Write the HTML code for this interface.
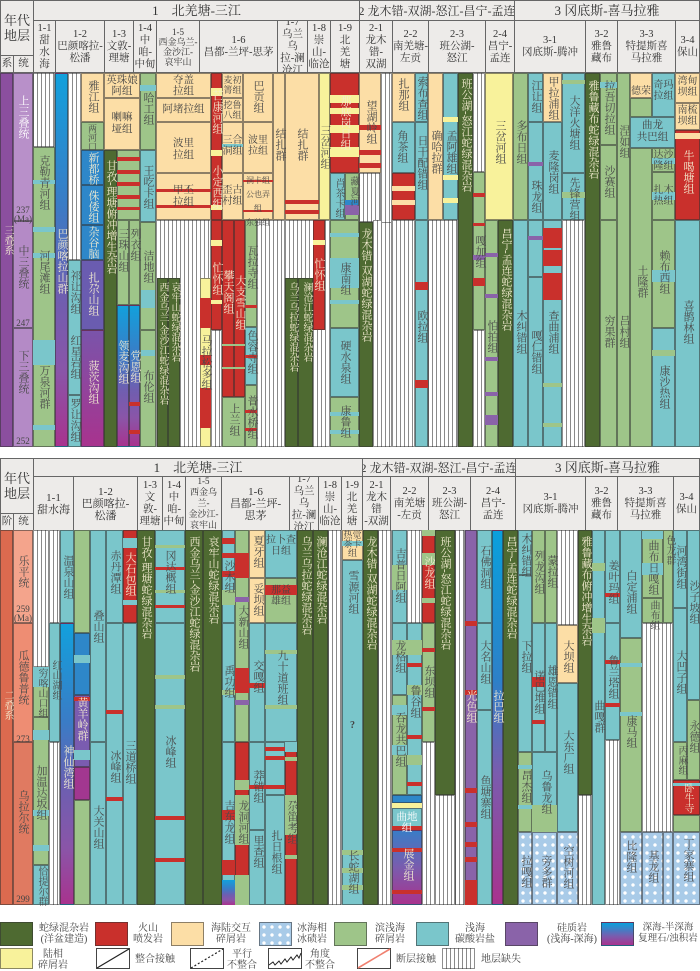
<!DOCTYPE html>
<html><head><meta charset="utf-8">
<style>
body{margin:0;background:#fff;width:700px;height:970px;position:relative;overflow:hidden;font-family:"Liberation Serif","Noto Serif CJK SC",serif}
i{position:absolute;display:block;box-sizing:border-box;border:0.5px solid rgba(50,50,50,.55)}
.G{background:#4e6a31}.R{background:#c9302c}.S{background:#fcdea6}.L{background:#9ec589}.C{background:#7ac6cb}
.P{background:#8a63a9}.Y{background:#f8f29b}.U{background:#2e87c9}.M{background:#a23790}
.H{background:repeating-linear-gradient(90deg,#fff 0 3px,#8a8a8a 3px 4px)}
.B{background:linear-gradient(#12a0dc,#3a7cc6 35%,#6f5eb0 60%,#8a55a8 80%,#a8338e)}
.I{background:#a9cbe8 radial-gradient(circle,#fff 1.4px,transparent 2px) 0 0/8px 8px}
.n{border:none}
s{position:absolute;text-decoration:none;writing-mode:vertical-rl;font-size:11px;line-height:12px;color:#4a4a4a;white-space:nowrap}
s.w{color:#f3ecd0}
.h{position:absolute;box-sizing:border-box;border:1px solid #666;background:#edebe9;display:flex;flex-direction:column;align-items:center;justify-content:center;font-size:10.5px;line-height:12px;color:#333;text-align:center;overflow:hidden}
.h1{font-size:12px;white-space:nowrap}
.lg{position:absolute;font-size:10px;line-height:11px;color:#444;text-align:center}
</style></head><body>

<!-- ========== TOP HEADER ========== -->
<div class="h" style="left:0;top:0;width:34px;height:56px;font-size:13px;line-height:15px">年代<br>地层</div>
<div class="h" style="left:0;top:55px;width:14px;height:18px">系</div>
<div class="h" style="left:13px;top:55px;width:21px;height:18px">统</div>
<div class="h h1" style="left:33px;top:0;width:327px;height:21px;font-size:13px">1　北羌塘-三江</div>
<div class="h h1" style="left:359px;top:0;width:156px;height:21px">2 龙木错-双湖-怒江-昌宁-孟连</div>
<div class="h h1" style="left:514px;top:0;width:186px;height:21px;font-size:13px">3 冈底斯-喜马拉雅</div>
<div class="h" style="left:33px;top:20px;width:23px;height:53px">1-1<br>甜<br>水<br>海</div>
<div class="h" style="left:55px;top:20px;width:50px;height:53px">1-2<br>巴颜喀拉-<br>松潘</div>
<div class="h" style="left:104px;top:20px;width:30px;height:53px">1-3<br>文敦-<br>理塘</div>
<div class="h" style="left:133px;top:20px;width:24px;height:53px">1-4<br>中咱-<br>中甸</div>
<div class="h" style="left:156px;top:20px;width:44px;height:53px;font-size:9px;line-height:10px">1-5<br>西金乌兰-<br>金沙江-<br>哀牢山</div>
<div class="h" style="left:199px;top:20px;width:79px;height:53px">1-6<br>昌都-兰坪-思茅</div>
<div class="h" style="left:277px;top:20px;width:31px;height:53px">1-7<br>乌兰乌<br>拉-澜<br>沧江</div>
<div class="h" style="left:307px;top:20px;width:24px;height:53px">1-8<br>崇山-<br>临沧</div>
<div class="h" style="left:330px;top:20px;width:30px;height:53px">1-9<br>北<br>羌<br>塘</div>
<div class="h" style="left:359px;top:20px;width:34px;height:53px">2-1<br>龙木错-<br>双湖</div>
<div class="h" style="left:392px;top:20px;width:37px;height:53px">2-2<br>南羌塘-<br>左贡</div>
<div class="h" style="left:428px;top:20px;width:58px;height:53px">2-3<br>班公湖-<br>怒江</div>
<div class="h" style="left:485px;top:20px;width:30px;height:53px">2-4<br>昌宁-<br>孟连</div>
<div class="h" style="left:514px;top:20px;width:72px;height:53px">3-1<br>冈底斯-腾冲</div>
<div class="h" style="left:585px;top:20px;width:33px;height:53px">3-2<br>雅鲁<br>藏布</div>
<div class="h" style="left:617px;top:20px;width:59px;height:53px">3-3<br>特提斯喜<br>马拉雅</div>
<div class="h" style="left:675px;top:20px;width:25px;height:53px">3-4<br>保山</div>

<!-- ========== TOP BODY ========== -->
<i style="left:0;top:73px;width:13px;height:374px;background:#8b4f9f"></i>
<i style="left:13px;top:73px;width:20px;height:148px;background:#b890c9"></i>
<i style="left:13px;top:221px;width:20px;height:107px;background:#b48ac6"></i>
<i style="left:13px;top:328px;width:20px;height:119px;background:#b48ac6"></i>
<!-- 1-1 -->
<i class="H" style="left:33px;top:73px;width:22px;height:74px"></i>
<i class="L" style="left:33px;top:147px;width:22px;height:300px"></i>
<i class="C n" style="left:33px;top:180px;width:22px;height:4px"></i>
<i class="C n" style="left:33px;top:227px;width:22px;height:5px"></i>
<i class="C n" style="left:33px;top:253px;width:22px;height:5px"></i>
<i class="C n" style="left:33px;top:340px;width:22px;height:25px"></i>
<i class="C n" style="left:33px;top:425px;width:22px;height:5px"></i>
<!-- 1-2 -->
<i class="B" style="left:55px;top:73px;width:13px;height:374px"></i>
<i class="H" style="left:68px;top:73px;width:13px;height:187px"></i>
<i class="C" style="left:68px;top:260px;width:13px;height:135px"></i>
<i class="C" style="left:68px;top:395px;width:13px;height:52px"></i>
<i class="S" style="left:81px;top:73px;width:23px;height:49px"></i>
<i class="L" style="left:81px;top:122px;width:23px;height:28px"></i>
<i class="U" style="left:81px;top:150px;width:23px;height:35px"></i>
<i class="U" style="left:81px;top:185px;width:23px;height:40px"></i>
<i class="U" style="left:81px;top:225px;width:23px;height:35px"></i>
<i style="left:81px;top:260px;width:23px;height:70px;background:#6a5cb0"></i>
<i style="left:81px;top:330px;width:23px;height:117px;background:linear-gradient(#7a54aa,#a8338e)"></i>
<!-- 1-3 -->
<i class="S" style="left:104px;top:73px;width:36px;height:25px"></i>
<i class="S" style="left:104px;top:98px;width:36px;height:52px"></i>
<i class="G" style="left:104px;top:150px;width:13px;height:297px"></i>
<i class="L" style="left:117px;top:150px;width:23px;height:70px"></i>
<i class="R n" style="left:117px;top:157px;width:23px;height:4px"></i>
<i class="R n" style="left:117px;top:170px;width:23px;height:4px"></i>
<i class="R n" style="left:117px;top:182px;width:23px;height:4px"></i>
<i class="R n" style="left:117px;top:195px;width:23px;height:4px"></i>
<i class="R n" style="left:117px;top:207px;width:23px;height:3px"></i>
<i class="L" style="left:117px;top:220px;width:12px;height:85px"></i>
<i class="L" style="left:129px;top:220px;width:11px;height:85px"></i>
<i class="B" style="left:117px;top:305px;width:12px;height:142px"></i>
<i class="B" style="left:129px;top:305px;width:11px;height:142px"></i>
<i class="R n" style="left:129px;top:402px;width:11px;height:4px"></i>
<i class="R n" style="left:129px;top:430px;width:11px;height:4px"></i>
<!-- 1-4 -->
<i class="L" style="left:140px;top:73px;width:16px;height:77px"></i>
<i class="C n" style="left:140px;top:85px;width:16px;height:6px"></i>
<i class="C" style="left:140px;top:150px;width:16px;height:72px"></i>
<i class="L" style="left:140px;top:222px;width:16px;height:108px"></i>
<i class="C n" style="left:141px;top:290px;width:14px;height:18px"></i>
<i class="L" style="left:140px;top:330px;width:16px;height:117px"></i>
<i class="C n" style="left:141px;top:350px;width:14px;height:6px"></i>
<!-- 1-5 -->
<i class="S" style="left:156px;top:73px;width:55px;height:25px"></i>
<i class="S" style="left:156px;top:98px;width:55px;height:24px"></i>
<i class="S" style="left:156px;top:122px;width:55px;height:51px"></i>
<i class="S" style="left:156px;top:173px;width:55px;height:47px"></i>
<i class="R n" style="left:156px;top:189px;width:55px;height:3px"></i>
<i class="R n" style="left:156px;top:205px;width:55px;height:3px"></i>
<i class="H" style="left:156px;top:220px;width:55px;height:227px"></i>
<i class="G" style="left:157px;top:278px;width:11px;height:169px"></i>
<i class="G" style="left:168px;top:278px;width:12px;height:169px"></i>
<i class="Y" style="left:200px;top:278px;width:11px;height:169px"></i>
<i class="R n" style="left:200px;top:298px;width:11px;height:30px"></i>
<i class="R n" style="left:200px;top:355px;width:11px;height:10px"></i>
<i class="R n" style="left:200px;top:388px;width:11px;height:40px"></i>
<!-- 1-6 -->
<i class="R" style="left:211px;top:73px;width:11px;height:147px"></i>
<i class="Y n" style="left:211px;top:88px;width:11px;height:8px"></i>
<i class="Y n" style="left:211px;top:150px;width:11px;height:6px"></i>
<i class="Y n" style="left:211px;top:205px;width:11px;height:5px"></i>
<i class="R" style="left:211px;top:220px;width:11px;height:110px"></i>
<i class="Y n" style="left:211px;top:240px;width:11px;height:6px"></i>
<i class="Y n" style="left:211px;top:300px;width:11px;height:4px"></i>
<i class="H" style="left:211px;top:330px;width:11px;height:117px"></i>
<i class="S" style="left:222px;top:73px;width:21px;height:25px"></i>
<i class="S" style="left:222px;top:98px;width:21px;height:24px"></i>
<i class="S" style="left:222px;top:122px;width:21px;height:51px"></i>
<i class="C n" style="left:222px;top:144px;width:21px;height:3px"></i>
<i class="S" style="left:222px;top:173px;width:21px;height:47px"></i>
<i class="S" style="left:243px;top:73px;width:30px;height:49px"></i>
<i class="S" style="left:243px;top:122px;width:30px;height:51px"></i>
<i class="S" style="left:243px;top:173px;width:30px;height:47px"></i>
<i class="R n" style="left:243px;top:180px;width:30px;height:2px"></i>
<i class="R n" style="left:243px;top:210px;width:30px;height:2px"></i>
<i class="R" style="left:222px;top:220px;width:12px;height:177px"></i>
<i class="R" style="left:234px;top:220px;width:11px;height:177px"></i>
<i class="L n" style="left:222px;top:344px;width:23px;height:2px"></i>
<i class="L n" style="left:222px;top:367px;width:23px;height:2px"></i>
<i class="L" style="left:222px;top:397px;width:23px;height:50px"></i>
<i class="L" style="left:245px;top:220px;width:12px;height:107px"></i>
<i class="R n" style="left:245px;top:305px;width:12px;height:3px"></i>
<i class="C" style="left:245px;top:327px;width:12px;height:58px"></i>
<i class="R n" style="left:245px;top:355px;width:12px;height:3px"></i>
<i class="L" style="left:245px;top:385px;width:12px;height:62px"></i>
<i class="R n" style="left:245px;top:410px;width:12px;height:3px"></i>
<i class="R n" style="left:245px;top:428px;width:12px;height:3px"></i>
<i class="H" style="left:257px;top:220px;width:28px;height:227px"></i>
<!-- 1-7 / 1-8 -->
<i class="S" style="left:273px;top:73px;width:12px;height:147px"></i>
<i class="S" style="left:285px;top:73px;width:34px;height:147px"></i>
<i class="R n" style="left:285px;top:200px;width:34px;height:4px"></i>
<i class="R n" style="left:285px;top:210px;width:34px;height:4px"></i>
<i class="H" style="left:285px;top:220px;width:45px;height:227px"></i>
<i class="G" style="left:285px;top:278px;width:13px;height:169px"></i>
<i class="G" style="left:298px;top:278px;width:15px;height:169px"></i>
<i class="R" style="left:313px;top:220px;width:12px;height:110px"></i>
<i class="Y n" style="left:313px;top:240px;width:12px;height:5px"></i>
<i class="Y" style="left:319px;top:73px;width:11px;height:147px"></i>
<!-- 1-9 -->
<i class="R" style="left:330px;top:73px;width:29px;height:100px"></i>
<i class="Y n" style="left:330px;top:95px;width:29px;height:8px"></i>
<i class="Y n" style="left:330px;top:108px;width:29px;height:6px"></i>
<i class="Y n" style="left:330px;top:125px;width:29px;height:8px"></i>
<i class="Y n" style="left:330px;top:147px;width:29px;height:10px"></i>
<i class="C" style="left:330px;top:173px;width:15px;height:47px"></i>
<i class="L" style="left:345px;top:173px;width:14px;height:47px"></i>
<i class="U n" style="left:345px;top:200px;width:14px;height:5px"></i>
<i class="P n" style="left:345px;top:205px;width:14px;height:10px"></i>
<i class="L" style="left:330px;top:220px;width:29px;height:108px"></i>
<i class="C n" style="left:330px;top:233px;width:29px;height:4px"></i>
<i class="C n" style="left:330px;top:258px;width:29px;height:30px"></i>
<i class="C n" style="left:330px;top:300px;width:29px;height:4px"></i>
<i class="C" style="left:330px;top:328px;width:29px;height:69px"></i>
<i class="L" style="left:330px;top:397px;width:29px;height:50px"></i>
<i class="C n" style="left:330px;top:412px;width:29px;height:4px"></i>
<i class="C n" style="left:330px;top:430px;width:29px;height:4px"></i>
<!-- 2-1 -->
<i class="S" style="left:359px;top:73px;width:22px;height:100px"></i>
<i class="R n" style="left:359px;top:125px;width:22px;height:5px"></i>
<i class="R n" style="left:359px;top:150px;width:22px;height:5px"></i>
<i class="R n" style="left:359px;top:163px;width:22px;height:5px"></i>
<i class="H" style="left:359px;top:173px;width:22px;height:49px"></i>
<i class="G" style="left:359px;top:222px;width:14px;height:225px"></i>
<i class="H" style="left:373px;top:220px;width:19px;height:227px"></i>
<i class="H" style="left:381px;top:73px;width:11px;height:150px"></i>
<!-- 2-2 -->
<i class="S" style="left:392px;top:73px;width:23px;height:49px"></i>
<i class="C" style="left:392px;top:122px;width:23px;height:51px"></i>
<i class="R" style="left:392px;top:173px;width:23px;height:47px"></i>
<i class="S n" style="left:392px;top:186px;width:23px;height:5px"></i>
<i class="S n" style="left:392px;top:200px;width:23px;height:5px"></i>
<i class="C" style="left:415px;top:73px;width:13px;height:49px"></i>
<i class="C" style="left:415px;top:122px;width:13px;height:98px"></i>
<i class="H" style="left:392px;top:220px;width:23px;height:227px"></i>
<i class="C" style="left:415px;top:220px;width:13px;height:227px"></i>
<i class="R n" style="left:415px;top:282px;width:13px;height:8px"></i>
<i class="R n" style="left:415px;top:380px;width:13px;height:8px"></i>
<!-- 2-3 -->
<i class="S" style="left:428px;top:73px;width:15px;height:147px"></i>
<i class="C" style="left:443px;top:73px;width:15px;height:147px"></i>
<i class="Y n" style="left:443px;top:117px;width:15px;height:5px"></i>
<i class="Y n" style="left:443px;top:175px;width:15px;height:5px"></i>
<i class="Y n" style="left:443px;top:198px;width:15px;height:5px"></i>
<i class="H" style="left:428px;top:220px;width:30px;height:227px"></i>
<i class="G" style="left:458px;top:73px;width:15px;height:374px"></i>
<i class="H" style="left:473px;top:73px;width:12px;height:99px"></i>
<i class="L" style="left:473px;top:172px;width:12px;height:158px"></i>
<i class="R n" style="left:473px;top:193px;width:12px;height:4px"></i>
<i class="R n" style="left:473px;top:223px;width:12px;height:3px"></i>
<i class="P n" style="left:473px;top:255px;width:12px;height:5px"></i>
<i class="R n" style="left:473px;top:278px;width:12px;height:8px"></i>
<i class="H" style="left:473px;top:330px;width:12px;height:117px"></i>
<!-- 2-4 -->
<i class="Y" style="left:485px;top:73px;width:28px;height:147px"></i>
<i class="L" style="left:485px;top:220px;width:13px;height:227px"></i>
<i class="P n" style="left:485px;top:253px;width:13px;height:4px"></i>
<i class="P n" style="left:485px;top:294px;width:13px;height:4px"></i>
<i class="P n" style="left:485px;top:357px;width:13px;height:4px"></i>
<i class="P n" style="left:485px;top:392px;width:13px;height:4px"></i>
<i class="P n" style="left:485px;top:415px;width:13px;height:10px"></i>
<i class="G" style="left:498px;top:220px;width:15px;height:227px"></i>
<!-- 3-1 -->
<i class="L" style="left:513px;top:73px;width:15px;height:147px"></i>
<i class="C" style="left:513px;top:220px;width:15px;height:227px"></i>
<i class="C" style="left:528px;top:73px;width:15px;height:49px"></i>
<i class="C" style="left:528px;top:122px;width:15px;height:98px"></i>
<i class="P n" style="left:528px;top:162px;width:15px;height:4px"></i>
<i class="C" style="left:528px;top:220px;width:15px;height:57px"></i>
<i class="P n" style="left:528px;top:236px;width:15px;height:4px"></i>
<i class="C" style="left:528px;top:277px;width:15px;height:170px"></i>
<i class="S" style="left:543px;top:73px;width:19px;height:49px"></i>
<i class="C" style="left:543px;top:122px;width:19px;height:98px"></i>
<i class="C" style="left:543px;top:220px;width:19px;height:227px"></i>
<i class="R n" style="left:543px;top:228px;width:19px;height:20px"></i>
<i class="R n" style="left:543px;top:250px;width:19px;height:16px"></i>
<i class="R n" style="left:543px;top:273px;width:19px;height:27px"></i>
<i class="L n" style="left:543px;top:383px;width:19px;height:4px"></i>
<i class="L n" style="left:543px;top:423px;width:19px;height:4px"></i>
<i class="C" style="left:562px;top:73px;width:23px;height:100px"></i>
<i class="L n" style="left:562px;top:80px;width:23px;height:4px"></i>
<i class="C" style="left:562px;top:173px;width:23px;height:47px"></i>
<i class="L n" style="left:562px;top:192px;width:23px;height:6px"></i>
<i class="H" style="left:562px;top:220px;width:23px;height:227px"></i>
<!-- 3-2 -->
<i class="G" style="left:585px;top:73px;width:15px;height:374px"></i>
<i class="L" style="left:600px;top:73px;width:17px;height:72px"></i>
<i class="C n" style="left:600px;top:82px;width:17px;height:6px"></i>
<i class="L" style="left:600px;top:145px;width:17px;height:75px"></i>
<i class="L" style="left:600px;top:220px;width:17px;height:227px"></i>
<!-- 3-3 -->
<i class="L" style="left:617px;top:73px;width:13px;height:374px"></i>
<i class="S" style="left:630px;top:73px;width:22px;height:25px"></i>
<i class="L" style="left:630px;top:98px;width:22px;height:19px"></i>
<i class="C" style="left:652px;top:73px;width:23px;height:44px"></i>
<i class="C" style="left:630px;top:117px;width:45px;height:31px"></i>
<i class="L" style="left:630px;top:148px;width:22px;height:299px"></i>
<i class="L" style="left:652px;top:148px;width:23px;height:24px"></i>
<i class="C n" style="left:652px;top:158px;width:23px;height:6px"></i>
<i class="L" style="left:652px;top:172px;width:23px;height:48px"></i>
<i class="C n" style="left:652px;top:192px;width:23px;height:8px"></i>
<i class="L" style="left:652px;top:220px;width:23px;height:108px"></i>
<i class="C n" style="left:652px;top:270px;width:23px;height:12px"></i>
<i class="C" style="left:652px;top:328px;width:23px;height:119px"></i>
<i class="L n" style="left:652px;top:350px;width:23px;height:6px"></i>
<!-- 3-4 -->
<i class="S" style="left:675px;top:73px;width:25px;height:30px"></i>
<i class="S" style="left:675px;top:103px;width:25px;height:27px"></i>
<i class="R" style="left:675px;top:130px;width:25px;height:90px"></i>
<i class="S n" style="left:675px;top:133px;width:25px;height:6px"></i>
<i class="C" style="left:675px;top:220px;width:25px;height:227px"></i>

<!-- top labels -->
<s class="w" style="left:1px;top:225px;font-size:10px">三叠系</s>
<s style="left:17px;top:95px;color:#fff">上三叠统</s>
<div class="lg" style="left:13px;top:206px;width:20px;font-size:9px;line-height:9px">237<br>(Ma)</div>
<s style="left:17px;top:245px">中三叠统</s>
<div class="lg" style="left:13px;top:318px;width:20px;font-size:9px">247</div>
<s style="left:17px;top:350px">下三叠统</s>
<div class="lg" style="left:13px;top:436px;width:20px;font-size:9px">252</div>
<s style="left:38px;top:155px">克勒青河组</s>
<s style="left:38px;top:250px">河尾滩组</s>
<s style="left:38px;top:365px">万泉河群</s>
<s class="w" style="left:56px;top:228px">巴颜喀拉山群</s>
<s style="left:69px;top:270px">祁让沟组</s>
<s style="left:69px;top:335px">红星岩组</s>
<s style="left:69px;top:398px">罗让沟组</s>
<s style="left:87px;top:80px">雅江组</s>
<s style="left:87px;top:124px;font-size:9px;line-height:10px">两河口</s>
<s class="w" style="left:87px;top:152px">新都桥</s>
<s class="w" style="left:87px;top:190px">侏倭组</s>
<s class="w" style="left:87px;top:226px">杂谷脑</s>
<s class="w" style="left:87px;top:272px">扎尕山组</s>
<s class="w" style="left:87px;top:360px">菠茨沟组</s>
<div class="lg" style="left:104px;top:75px;width:36px;font-size:10.5px;line-height:11px">英珠娘<br>阿组</div>
<div class="lg" style="left:104px;top:112px;width:36px;font-size:10.5px;line-height:12px">喇嘛<br>垭组</div>
<s class="w" style="left:105px;top:160px">甘孜-理塘俯冲增生杂岩</s>
<s style="left:117px;top:228px">三珠山组</s>
<s style="left:129px;top:228px">列衣组</s>
<s class="w" style="left:117px;top:340px">领麦沟组</s>
<s class="w" style="left:129px;top:350px">党恩组</s>
<s style="left:142px;top:92px">哈工组</s>
<s style="left:142px;top:165px">王吃卡组</s>
<s style="left:142px;top:250px">洁地组</s>
<s style="left:142px;top:370px">布伦组</s>
<div class="lg" style="left:156px;top:75px;width:55px;font-size:10.5px">夺盖<br>拉组</div>
<div class="lg" style="left:156px;top:104px;width:55px;font-size:10.5px">阿堵拉组</div>
<div class="lg" style="left:156px;top:138px;width:55px;font-size:10.5px;line-height:12px">波里<br>拉组</div>
<div class="lg" style="left:156px;top:185px;width:55px;font-size:10.5px;line-height:12px">甲丕<br>拉组</div>
<s class="w" style="left:157px;top:282px;font-size:10px;line-height:11px">西金乌兰-金沙江蛇绿混杂岩</s>
<s class="w" style="left:169px;top:282px;font-size:10px;line-height:11px">哀牢山蛇绿混杂岩</s>
<s style="left:200px;top:335px">马拉松多组</s>
<s class="w" style="left:211px;top:90px">芒康河组</s>
<s class="w" style="left:211px;top:165px">小定西组</s>
<s class="w" style="left:211px;top:262px">忙怀组</s>
<div class="lg" style="left:222px;top:75px;width:21px;font-size:9px;line-height:10px">麦初<br>箐组</div>
<div class="lg" style="left:222px;top:100px;width:21px;font-size:9px;line-height:10px">挖鲁<br>八组</div>
<div class="lg" style="left:222px;top:135px;width:21px;font-size:10px">三合<br>洞组</div>
<div class="lg" style="left:222px;top:185px;width:21px;font-size:10px">歪古<br>村组</div>
<s style="left:252px;top:80px">巴贡组</s>
<div class="lg" style="left:243px;top:135px;width:30px;font-size:10px">波里<br>拉组</div>
<div class="lg" style="left:243px;top:174px;width:30px;font-size:8px;line-height:14px">洞卡组<br>公也弄组<br>东独组</div>
<s class="w" style="left:222px;top:270px">攀天阁组</s>
<s class="w" style="left:234px;top:275px">大支雪山组</s>
<s style="left:228px;top:403px">上兰组</s>
<s style="left:246px;top:245px">瓦拉寺组</s>
<s style="left:246px;top:330px">色容寺组</s>
<s style="left:246px;top:395px">普水桥组</s>
<s style="left:274px;top:128px">结扎群</s>
<s style="left:296px;top:128px">结扎群</s>
<s class="w" style="left:286px;top:282px;font-size:10px">乌兰乌拉蛇绿混杂岩</s>
<s class="w" style="left:300px;top:282px;font-size:10px">澜沧江蛇绿混杂岩</s>
<s class="w" style="left:313px;top:258px">忙怀组</s>
<s style="left:319px;top:125px">三岔河组</s>
<s class="w" style="left:339px;top:95px">那底岗日组</s>
<s style="left:332px;top:178px;font-size:10px">肖茶卡组</s>
<s style="left:347px;top:176px;font-size:10px">藏夏河</s>
<s style="left:339px;top:262px">康南组</s>
<s style="left:339px;top:340px">硬水泉组</s>
<s style="left:339px;top:405px">康鲁组</s>
<s style="left:365px;top:100px">望湖岭组</s>
<s class="w" style="left:360px;top:228px">龙木错-双湖蛇绿混杂岩</s>
<s style="left:397px;top:78px">扎那组</s>
<s style="left:396px;top:130px">角茶组</s>
<s style="left:416px;top:76px">索布查组</s>
<s style="left:416px;top:135px">日干配错组</s>
<s style="left:416px;top:310px">欧拉组</s>
<s style="left:430px;top:130px">确哈拉群</s>
<s style="left:445px;top:130px">孟阿雄组</s>
<s class="w" style="left:460px;top:78px">班公湖-怒江蛇绿混杂岩</s>
<s style="left:474px;top:235px">嘎加组</s>
<s style="left:486px;top:320px">怕拍组</s>
<s style="left:494px;top:120px">三岔河组</s>
<s class="w" style="left:500px;top:228px">昌宁-孟连蛇绿混杂岩</s>
<s style="left:515px;top:120px">多布日组</s>
<s style="left:515px;top:310px">木纠错组</s>
<s style="left:530px;top:80px">江让组</s>
<s style="left:530px;top:180px">珠龙组</s>
<s style="left:530px;top:330px">嘎仁错组</s>
<s style="left:547px;top:76px">甲拉浦组</s>
<s style="left:547px;top:150px">麦隆岗组</s>
<s style="left:547px;top:310px">查曲浦组</s>
<s style="left:568px;top:95px">大洋火塘组</s>
<s style="left:568px;top:177px">先锋营组</s>
<s class="w" style="left:587px;top:80px">雅鲁藏布蛇绿混杂岩</s>
<s style="left:603px;top:80px">拉吾切拉组</s>
<s style="left:603px;top:165px">沙赛组</s>
<s style="left:603px;top:315px">穷果群</s>
<s style="left:618px;top:125px">涅如组</s>
<s style="left:618px;top:315px">吕村组</s>
<div class="lg" style="left:630px;top:86px;width:22px;font-size:10px">德荣</div>
<div class="lg" style="left:652px;top:80px;width:23px;font-size:10px">奇玛<br>拉组</div>
<div class="lg" style="left:630px;top:120px;width:45px;font-size:10.5px;line-height:12px">曲龙<br>共巴组</div>
<s style="left:636px;top:265px">土隆群</s>
<div class="lg" style="left:652px;top:150px;width:23px;font-size:10px">达沙<br>隆组</div>
<div class="lg" style="left:652px;top:185px;width:23px;font-size:10px">扎木<br>热组</div>
<s style="left:658px;top:250px">赖布西组</s>
<s style="left:658px;top:365px">康沙热组</s>
<div class="lg" style="left:675px;top:76px;width:25px;font-size:10px">湾甸<br>坝组</div>
<div class="lg" style="left:675px;top:105px;width:25px;font-size:10px">南梳<br>坝组</div>
<s class="w" style="left:682px;top:150px">牛喝塘组</s>
<s style="left:682px;top:300px">喜鹊林组</s>

<!-- ========== BOTTOM HEADER ========== -->
<div class="h" style="left:0;top:458px;width:34px;height:56px;font-size:13px;line-height:15px">年代<br>地层</div>
<div class="h" style="left:0;top:513px;width:14px;height:18px">阶</div>
<div class="h" style="left:13px;top:513px;width:21px;height:18px">统</div>
<div class="h h1" style="left:33px;top:458px;width:330px;height:19px;font-size:13px">1　北羌塘-三江</div>
<div class="h h1" style="left:362px;top:458px;width:154px;height:19px">2 龙木错-双湖-怒江-昌宁-孟连</div>
<div class="h h1" style="left:515px;top:458px;width:185px;height:19px;font-size:13px">3 冈底斯-喜马拉雅</div>
<div class="h" style="left:33px;top:476px;width:41px;height:55px;font-size:11px">1-1<br>甜水海</div>
<div class="h" style="left:73px;top:476px;width:65px;height:55px;font-size:11px">1-2<br>巴颜喀拉-<br>松潘</div>
<div class="h" style="left:137px;top:476px;width:26px;height:55px">1-3<br>文敦-<br>理塘</div>
<div class="h" style="left:162px;top:476px;width:24px;height:55px">1-4<br>中咱-<br>中甸</div>
<div class="h" style="left:185px;top:476px;width:37px;height:55px;font-size:9px;line-height:11px">1-5<br>西金乌兰-<br>金沙江-<br>哀牢山</div>
<div class="h" style="left:221px;top:476px;width:69px;height:55px;font-size:11px">1-6<br>昌都-兰坪-<br>思茅</div>
<div class="h" style="left:289px;top:476px;width:30px;height:55px">1-7<br>乌兰乌<br>拉-澜<br>沧江</div>
<div class="h" style="left:318px;top:476px;width:24px;height:55px">1-8<br>崇山-<br>临沧</div>
<div class="h" style="left:341px;top:476px;width:22px;height:55px">1-9<br>北羌<br>塘</div>
<div class="h" style="left:362px;top:476px;width:29px;height:55px">2-1<br>龙木错<br>-双湖</div>
<div class="h" style="left:390px;top:476px;width:39px;height:55px">2-2<br>南羌塘<br>-左贡</div>
<div class="h" style="left:428px;top:476px;width:43px;height:55px">2-3<br>班公湖-<br>怒江</div>
<div class="h" style="left:470px;top:476px;width:46px;height:55px">2-4<br>昌宁-<br>孟连</div>
<div class="h" style="left:515px;top:476px;width:71px;height:55px">3-1<br>冈底斯-腾冲</div>
<div class="h" style="left:585px;top:476px;width:33px;height:55px">3-2<br>雅鲁<br>藏布</div>
<div class="h" style="left:617px;top:476px;width:57px;height:55px">3-3<br>特提斯喜<br>马拉雅</div>
<div class="h" style="left:673px;top:476px;width:27px;height:55px">3-4<br>保山</div>

<!-- ========== BOTTOM BODY ========== -->
<i style="left:0;top:530px;width:13px;height:375px;background:#dc6a4f"></i>
<i style="left:13px;top:530px;width:20px;height:93px;background:#f4a48c"></i>
<i style="left:13px;top:623px;width:20px;height:119px;background:#ee8d73"></i>
<i style="left:13px;top:742px;width:20px;height:163px;background:#e07a61"></i>
<!-- 1-1 -->
<i class="H" style="left:33px;top:530px;width:16px;height:137px"></i>
<i class="L" style="left:33px;top:667px;width:16px;height:50px"></i>
<i class="C n" style="left:33px;top:667px;width:16px;height:20px"></i>
<i class="L" style="left:33px;top:717px;width:16px;height:148px"></i>
<i class="C n" style="left:33px;top:730px;width:16px;height:10px"></i>
<i class="C n" style="left:33px;top:810px;width:16px;height:6px"></i>
<i class="C n" style="left:33px;top:845px;width:16px;height:6px"></i>
<i class="C" style="left:33px;top:865px;width:16px;height:40px"></i>
<i class="H" style="left:49px;top:530px;width:11px;height:93px"></i>
<i class="C" style="left:49px;top:623px;width:11px;height:119px"></i>
<i class="H" style="left:49px;top:742px;width:11px;height:163px"></i>
<i class="C" style="left:60px;top:530px;width:14px;height:93px"></i>
<i class="B" style="left:60px;top:623px;width:14px;height:282px"></i>
<!-- 1-2 -->
<i class="L" style="left:74px;top:530px;width:16px;height:103px"></i>
<i class="U" style="left:74px;top:633px;width:16px;height:62px"></i>
<i class="C n" style="left:74px;top:655px;width:16px;height:8px"></i>
<i style="left:74px;top:695px;width:16px;height:72px;background:#7a5cb0"></i>
<i class="R n" style="left:74px;top:697px;width:16px;height:4px"></i>
<i class="C n" style="left:74px;top:750px;width:16px;height:10px"></i>
<i class="M" style="left:74px;top:767px;width:16px;height:33px"></i>
<i class="L" style="left:74px;top:800px;width:16px;height:105px"></i>
<i class="C" style="left:90px;top:530px;width:16px;height:212px"></i>
<i class="C" style="left:90px;top:742px;width:16px;height:163px"></i>
<i class="C" style="left:106px;top:530px;width:17px;height:93px"></i>
<i class="C" style="left:106px;top:623px;width:17px;height:282px"></i>
<i class="R n" style="left:106px;top:710px;width:17px;height:4px"></i>
<i class="R n" style="left:106px;top:797px;width:17px;height:4px"></i>
<i class="R" style="left:123px;top:530px;width:14px;height:93px"></i>
<i class="C n" style="left:123px;top:538px;width:14px;height:10px"></i>
<i class="C n" style="left:123px;top:600px;width:14px;height:5px"></i>
<i class="C" style="left:123px;top:623px;width:14px;height:282px"></i>
<!-- 1-3/1-4 -->
<i class="G" style="left:137px;top:530px;width:18px;height:375px"></i>
<i class="C" style="left:155px;top:530px;width:30px;height:93px"></i>
<i class="L n" style="left:155px;top:545px;width:30px;height:3px"></i>
<i class="R n" style="left:155px;top:567px;width:30px;height:3px"></i>
<i class="L n" style="left:155px;top:590px;width:30px;height:3px"></i>
<i class="R n" style="left:155px;top:605px;width:30px;height:3px"></i>
<i class="C" style="left:155px;top:623px;width:30px;height:282px"></i>
<i class="L n" style="left:155px;top:675px;width:30px;height:4px"></i>
<i class="L n" style="left:155px;top:705px;width:30px;height:4px"></i>
<i class="R n" style="left:155px;top:816px;width:30px;height:4px"></i>
<i class="R n" style="left:155px;top:858px;width:30px;height:4px"></i>
<!-- 1-5 -->
<i class="G" style="left:185px;top:530px;width:18px;height:375px"></i>
<i class="G" style="left:203px;top:530px;width:19px;height:375px"></i>
<!-- 1-6 -->
<i class="C" style="left:222px;top:530px;width:13px;height:93px"></i>
<i class="R n" style="left:222px;top:538px;width:13px;height:6px"></i>
<i class="R n" style="left:222px;top:553px;width:13px;height:5px"></i>
<i class="R n" style="left:222px;top:571px;width:13px;height:6px"></i>
<i class="L n" style="left:222px;top:590px;width:13px;height:15px"></i>
<i class="C" style="left:222px;top:623px;width:13px;height:119px"></i>
<i class="L n" style="left:222px;top:690px;width:13px;height:5px"></i>
<i class="C" style="left:222px;top:742px;width:13px;height:163px"></i>
<i class="R n" style="left:222px;top:810px;width:13px;height:10px"></i>
<i class="R n" style="left:222px;top:860px;width:13px;height:15px"></i>
<i class="B n" style="left:222px;top:880px;width:13px;height:25px"></i>
<i class="L" style="left:235px;top:530px;width:14px;height:212px"></i>
<i class="R n" style="left:235px;top:553px;width:14px;height:25px"></i>
<i class="P n" style="left:235px;top:597px;width:14px;height:5px"></i>
<i class="R n" style="left:235px;top:668px;width:14px;height:25px"></i>
<i class="P n" style="left:235px;top:700px;width:14px;height:5px"></i>
<i class="R" style="left:235px;top:742px;width:14px;height:163px"></i>
<i class="L n" style="left:235px;top:780px;width:14px;height:10px"></i>
<i class="L n" style="left:235px;top:795px;width:14px;height:50px"></i>
<i class="L n" style="left:235px;top:875px;width:14px;height:30px"></i>
<i class="S" style="left:249px;top:530px;width:16px;height:48px"></i>
<i class="S" style="left:249px;top:578px;width:16px;height:45px"></i>
<i class="C" style="left:249px;top:623px;width:16px;height:119px"></i>
<i class="R n" style="left:249px;top:683px;width:16px;height:5px"></i>
<i class="C" style="left:249px;top:742px;width:16px;height:88px"></i>
<i class="R n" style="left:249px;top:785px;width:16px;height:4px"></i>
<i class="C" style="left:249px;top:830px;width:16px;height:75px"></i>
<i class="C" style="left:265px;top:530px;width:32px;height:48px"></i>
<i class="L" style="left:265px;top:578px;width:32px;height:45px"></i>
<i class="R n" style="left:265px;top:585px;width:32px;height:10px"></i>
<i class="C" style="left:265px;top:623px;width:32px;height:119px"></i>
<i class="L n" style="left:265px;top:650px;width:32px;height:4px"></i>
<i class="L n" style="left:265px;top:705px;width:32px;height:4px"></i>
<i class="C" style="left:265px;top:742px;width:20px;height:53px"></i>
<i class="R n" style="left:265px;top:747px;width:20px;height:4px"></i>
<i class="R n" style="left:265px;top:756px;width:20px;height:4px"></i>
<i class="R n" style="left:265px;top:785px;width:20px;height:4px"></i>
<i class="C" style="left:265px;top:795px;width:20px;height:110px"></i>
<i class="R" style="left:285px;top:742px;width:12px;height:163px"></i>
<i class="C n" style="left:285px;top:742px;width:12px;height:10px"></i>
<i class="L n" style="left:285px;top:757px;width:12px;height:4px"></i>
<i class="L n" style="left:285px;top:795px;width:12px;height:40px"></i>
<i class="L n" style="left:285px;top:855px;width:12px;height:4px"></i>
<!-- 1-7..1-9 -->
<i class="G" style="left:297px;top:530px;width:16px;height:375px"></i>
<i class="G" style="left:313px;top:530px;width:15px;height:375px"></i>
<i class="H" style="left:328px;top:530px;width:14px;height:375px"></i>
<i class="S" style="left:342px;top:530px;width:21px;height:30px"></i>
<i class="C n" style="left:342px;top:541px;width:21px;height:5px"></i>
<i class="C" style="left:342px;top:560px;width:21px;height:345px"></i>
<i class="L n" style="left:342px;top:850px;width:21px;height:5px"></i>
<i class="L n" style="left:342px;top:868px;width:21px;height:5px"></i>
<i class="L n" style="left:342px;top:885px;width:21px;height:5px"></i>
<!-- 2-1 -->
<i class="G" style="left:363px;top:530px;width:15px;height:375px"></i>
<i class="H" style="left:378px;top:530px;width:14px;height:375px"></i>
<!-- 2-2 -->
<i class="C" style="left:392px;top:530px;width:15px;height:93px"></i>
<i class="L n" style="left:392px;top:565px;width:15px;height:25px"></i>
<i class="C" style="left:392px;top:623px;width:15px;height:72px"></i>
<i class="L n" style="left:392px;top:640px;width:15px;height:15px"></i>
<i class="L" style="left:392px;top:695px;width:15px;height:100px"></i>
<i class="C n" style="left:392px;top:705px;width:15px;height:10px"></i>
<i class="C n" style="left:392px;top:745px;width:15px;height:10px"></i>
<i class="H" style="left:407px;top:530px;width:15px;height:93px"></i>
<i class="C" style="left:407px;top:623px;width:15px;height:172px"></i>
<i class="L n" style="left:407px;top:640px;width:15px;height:15px"></i>
<i class="R n" style="left:407px;top:663px;width:15px;height:4px"></i>
<i class="L n" style="left:407px;top:685px;width:15px;height:10px"></i>
<i class="R n" style="left:407px;top:735px;width:15px;height:4px"></i>
<i class="L n" style="left:407px;top:755px;width:15px;height:10px"></i>
<i class="R n" style="left:407px;top:782px;width:15px;height:4px"></i>
<i class="U" style="left:392px;top:795px;width:30px;height:8px"></i>
<i class="Y n" style="left:392px;top:803px;width:30px;height:5px"></i>
<i class="C" style="left:392px;top:808px;width:30px;height:20px"></i>
<i class="R n" style="left:392px;top:826px;width:30px;height:4px"></i>
<i style="left:392px;top:830px;width:30px;height:75px;background:linear-gradient(#3a7cc6,#7a5cae 50%,#a8338e)"></i>
<i class="R n" style="left:392px;top:848px;width:30px;height:4px"></i>
<i class="R n" style="left:392px;top:890px;width:30px;height:4px"></i>
<i class="R" style="left:422px;top:530px;width:13px;height:93px"></i>
<i class="L n" style="left:422px;top:530px;width:13px;height:6px"></i>
<i class="L n" style="left:422px;top:553px;width:13px;height:12px"></i>
<i class="L n" style="left:422px;top:598px;width:13px;height:5px"></i>
<i class="L" style="left:422px;top:623px;width:13px;height:119px"></i>
<i class="R n" style="left:422px;top:648px;width:13px;height:4px"></i>
<i class="R n" style="left:422px;top:707px;width:13px;height:4px"></i>
<i class="H" style="left:422px;top:742px;width:13px;height:163px"></i>
<!-- 2-3 -->
<i class="G" style="left:435px;top:530px;width:20px;height:265px"></i>
<i class="H" style="left:435px;top:795px;width:20px;height:110px"></i>
<i class="H" style="left:455px;top:530px;width:10px;height:375px"></i>
<!-- 2-4 -->
<i class="P" style="left:465px;top:530px;width:12px;height:375px"></i>
<i class="R n" style="left:465px;top:621px;width:12px;height:5px"></i>
<i class="R n" style="left:465px;top:690px;width:12px;height:5px"></i>
<i class="R n" style="left:465px;top:788px;width:12px;height:5px"></i>
<i class="R n" style="left:465px;top:822px;width:12px;height:5px"></i>
<i class="R n" style="left:465px;top:842px;width:12px;height:5px"></i>
<i class="R n" style="left:465px;top:857px;width:12px;height:5px"></i>
<i class="R n" style="left:465px;top:880px;width:12px;height:25px"></i>
<i class="C" style="left:477px;top:530px;width:15px;height:93px"></i>
<i class="C" style="left:477px;top:623px;width:15px;height:87px"></i>
<i class="C" style="left:477px;top:710px;width:15px;height:195px"></i>
<i style="left:492px;top:530px;width:11px;height:375px;background:linear-gradient(#0aa0dc,#2d80c8 40%,#7a5cae 65%,#a8338e)"></i>
<i class="G" style="left:503px;top:530px;width:15px;height:375px"></i>
<!-- 3-1 -->
<i class="C" style="left:518px;top:530px;width:14px;height:45px"></i>
<i class="C" style="left:518px;top:575px;width:14px;height:177px"></i>
<i class="L" style="left:518px;top:752px;width:14px;height:80px"></i>
<i class="C n" style="left:518px;top:765px;width:14px;height:4px"></i>
<i class="C n" style="left:518px;top:805px;width:14px;height:4px"></i>
<i class="I" style="left:518px;top:832px;width:14px;height:73px"></i>
<i class="L" style="left:532px;top:530px;width:13px;height:93px"></i>
<i class="L" style="left:545px;top:530px;width:12px;height:93px"></i>
<i class="C" style="left:532px;top:623px;width:13px;height:129px"></i>
<i class="R n" style="left:532px;top:677px;width:13px;height:10px"></i>
<i class="R n" style="left:532px;top:720px;width:13px;height:4px"></i>
<i class="C" style="left:545px;top:623px;width:12px;height:129px"></i>
<i class="C" style="left:532px;top:752px;width:25px;height:80px"></i>
<i class="L n" style="left:532px;top:805px;width:25px;height:27px"></i>
<i class="I" style="left:532px;top:832px;width:25px;height:73px"></i>
<i class="H" style="left:557px;top:530px;width:21px;height:95px"></i>
<i class="S" style="left:557px;top:625px;width:21px;height:58px"></i>
<i class="C" style="left:557px;top:683px;width:21px;height:149px"></i>
<i class="I" style="left:557px;top:832px;width:21px;height:73px"></i>
<!-- 3-2 -->
<i class="G" style="left:578px;top:530px;width:14px;height:265px"></i>
<i class="H" style="left:578px;top:795px;width:14px;height:110px"></i>
<i class="C" style="left:592px;top:530px;width:13px;height:375px"></i>
<i class="L n" style="left:592px;top:563px;width:13px;height:8px"></i>
<i class="L n" style="left:592px;top:618px;width:13px;height:15px"></i>
<i class="C" style="left:605px;top:530px;width:15px;height:93px"></i>
<i class="R n" style="left:605px;top:593px;width:15px;height:4px"></i>
<i class="C" style="left:605px;top:623px;width:15px;height:117px"></i>
<i class="R n" style="left:605px;top:660px;width:15px;height:4px"></i>
<i class="R n" style="left:605px;top:703px;width:15px;height:4px"></i>
<i class="H" style="left:605px;top:740px;width:15px;height:165px"></i>
<!-- 3-3 -->
<i class="C" style="left:620px;top:530px;width:22px;height:108px"></i>
<i class="L" style="left:620px;top:638px;width:22px;height:194px"></i>
<i class="C n" style="left:620px;top:663px;width:22px;height:4px"></i>
<i class="C n" style="left:620px;top:712px;width:22px;height:4px"></i>
<i class="I" style="left:620px;top:832px;width:22px;height:73px"></i>
<i class="L" style="left:642px;top:530px;width:21px;height:68px"></i>
<i class="C n" style="left:642px;top:531px;width:21px;height:8px"></i>
<i class="C n" style="left:642px;top:563px;width:21px;height:12px"></i>
<i class="L" style="left:642px;top:598px;width:21px;height:25px"></i>
<i class="H" style="left:642px;top:623px;width:31px;height:209px"></i>
<i class="I" style="left:642px;top:832px;width:21px;height:73px"></i>
<i class="L" style="left:663px;top:530px;width:10px;height:93px"></i>
<i class="I" style="left:663px;top:832px;width:10px;height:73px"></i>
<!-- 3-4 -->
<i class="C" style="left:673px;top:530px;width:14px;height:78px"></i>
<i class="C" style="left:673px;top:608px;width:14px;height:134px"></i>
<i class="L" style="left:673px;top:742px;width:14px;height:38px"></i>
<i class="C" style="left:687px;top:530px;width:13px;height:170px"></i>
<i class="L" style="left:687px;top:700px;width:13px;height:80px"></i>
<i class="R" style="left:673px;top:780px;width:27px;height:35px"></i>
<i class="C n" style="left:673px;top:783px;width:27px;height:3px"></i>
<i class="L" style="left:673px;top:815px;width:27px;height:17px"></i>
<i class="I" style="left:673px;top:832px;width:27px;height:73px"></i>

<!-- bottom labels -->
<s class="w" style="left:1px;top:690px;font-size:10px">二叠系</s>
<s style="left:17px;top:555px">乐平统</s>
<div class="lg" style="left:13px;top:605px;width:20px;font-size:9px;line-height:9px">259<br>(Ma)</div>
<s style="left:17px;top:650px">瓜德鲁普统</s>
<div class="lg" style="left:13px;top:734px;width:20px;font-size:9px">273</div>
<s style="left:17px;top:790px">乌拉尔统</s>
<div class="lg" style="left:13px;top:894px;width:20px;font-size:9px">299</div>
<s style="left:35px;top:668px;font-size:10px">穷喀山口组</s>
<s style="left:35px;top:765px">加温达坂组</s>
<s style="left:35px;top:866px;font-size:10px">恰提尔群</s>
<s style="left:49px;top:660px;font-size:10px">红山湖组</s>
<s style="left:62px;top:555px">温泉山组</s>
<s class="w" style="left:62px;top:745px">神仙湾组</s>
<s class="w" style="left:76px;top:697px">黄羊岭群</s>
<s style="left:92px;top:610px">叠山组</s>
<s style="left:92px;top:805px">大关山组</s>
<s style="left:109px;top:550px">赤丹潭组</s>
<s style="left:109px;top:750px">冰峰组</s>
<s class="w" style="left:124px;top:552px">大石包组</s>
<s style="left:124px;top:740px">三道桥组</s>
<s class="w" style="left:140px;top:536px">甘孜-理塘蛇绿混杂岩</s>
<s style="left:164px;top:550px">冈达概组</s>
<s style="left:164px;top:735px">冰峰组</s>
<s class="w" style="left:188px;top:536px">西金乌兰-金沙江蛇绿混杂岩</s>
<s class="w" style="left:207px;top:536px">哀牢山蛇绿混杂岩</s>
<s style="left:223px;top:560px">沙木组</s>
<s style="left:223px;top:665px">禹功组</s>
<s style="left:223px;top:800px">吉东龙组</s>
<s style="left:237px;top:605px">大新山组</s>
<s style="left:237px;top:800px">龙洞河组</s>
<s style="left:252px;top:535px">夏牙组</s>
<s style="left:252px;top:583px">妥坝组</s>
<s style="left:252px;top:660px">交嘎组</s>
<s style="left:252px;top:770px">莽错组</s>
<s style="left:252px;top:835px">里查组</s>
<div class="lg" style="left:265px;top:535px;width:32px;font-size:10px">拉卜查<br>日组</div>
<div class="lg" style="left:265px;top:585px;width:32px;font-size:10px">那益<br>雄组</div>
<s style="left:276px;top:650px">九十道班组</s>
<s style="left:270px;top:830px">扎日根组</s>
<s style="left:286px;top:800px">尕笛考组</s>
<s class="w" style="left:300px;top:536px">乌兰乌拉蛇绿混杂岩</s>
<s class="w" style="left:315px;top:536px">澜沧江蛇绿混杂岩</s>
<div class="lg" style="left:342px;top:531px;width:21px;font-size:9px;line-height:9px">热觉<br>茶卡<br>组</div>
<s style="left:347px;top:570px">雪源河组</s>
<div class="lg" style="left:342px;top:720px;width:21px;font-weight:bold">?</div>
<s style="left:347px;top:850px">长蛇湖组</s>
<s class="w" style="left:365px;top:536px">龙木错-双湖蛇绿混杂岩</s>
<s style="left:394px;top:548px">吉普日阿组</s>
<s style="left:394px;top:640px">龙格组</s>
<s style="left:394px;top:712px">吞龙共巴组</s>
<div class="lg" style="left:392px;top:812px;width:30px;color:#fff;font-size:10.5px">曲地组</div>
<s class="w" style="left:402px;top:848px">展金组</s>
<s style="left:409px;top:685px">鲁谷组</s>
<s class="w" style="left:423px;top:556px">沙龙组</s>
<s style="left:423px;top:665px">东坝组</s>
<s class="w" style="left:439px;top:536px">班公湖-怒江蛇绿混杂岩</s>
<s class="w" style="left:465px;top:690px">光色组</s>
<s style="left:479px;top:545px">石佛洞组</s>
<s style="left:479px;top:640px">大名山组</s>
<s style="left:479px;top:775px">鱼塘寨组</s>
<s class="w" style="left:492px;top:690px">拉巴组</s>
<s class="w" style="left:505px;top:536px">昌宁-孟连蛇绿混杂岩</s>
<s style="left:520px;top:533px">木纠错组</s>
<s style="left:520px;top:640px">下拉组</s>
<s style="left:520px;top:770px">昂杰组</s>
<s style="left:520px;top:855px">拉嘎组</s>
<s style="left:533px;top:550px">列龙沟组</s>
<s style="left:546px;top:555px">蒙拉组</s>
<s style="left:533px;top:670px">诺巴堆组</s>
<s style="left:546px;top:665px">雄恩错组</s>
<s style="left:540px;top:770px">乌鲁龙组</s>
<s style="left:540px;top:855px">旁多群</s>
<s style="left:562px;top:640px">大坝组</s>
<s style="left:562px;top:730px">大东厂组</s>
<s style="left:562px;top:845px">空树河组</s>
<s class="w" style="left:580px;top:536px">雅鲁藏布俯冲增生杂岩</s>
<s style="left:593px;top:700px">曲嘎群</s>
<s style="left:607px;top:560px">姜叶玛组</s>
<s style="left:607px;top:655px">鲁兰塔组</s>
<s style="left:625px;top:570px">白定浦组</s>
<s style="left:625px;top:715px">康马组</s>
<s style="left:625px;top:840px">比隆组</s>
<s style="left:647px;top:540px">曲布日嘎组</s>
<s style="left:647px;top:600px;font-size:10px">曲布组</s>
<s style="left:647px;top:850px">基龙组</s>
<s style="left:663px;top:535px;font-size:10px">色龙群</s>
<s style="left:675px;top:545px">河湾街组</s>
<s style="left:675px;top:650px">大凹子组</s>
<s style="left:675px;top:745px;font-size:10px">丙麻组</s>
<s class="w" style="left:681px;top:783px;font-size:10px">卧牛寺</s>
<s style="left:682px;top:838px">丁家寨组</s>
<s style="left:688px;top:580px">沙子坡组</s>
<s style="left:688px;top:720px">永德组</s>

<!-- ========== LEGEND ========== -->
<i class="G" style="left:0;top:922px;width:33px;height:24px"></i>
<div class="lg" style="left:36px;top:923px;width:56px">蛇绿混杂岩<br>(洋盆建造)</div>
<i class="R" style="left:95px;top:922px;width:33px;height:24px"></i>
<div class="lg" style="left:131px;top:923px;width:34px">火山<br>喷发岩</div>
<i class="S" style="left:171px;top:922px;width:33px;height:24px"></i>
<div class="lg" style="left:207px;top:923px;width:48px">海陆交互<br>碎屑岩</div>
<i class="I" style="left:259px;top:922px;width:33px;height:24px"></i>
<div class="lg" style="left:294px;top:923px;width:36px">冰海相<br>冰碛岩</div>
<i class="L" style="left:334px;top:922px;width:33px;height:24px"></i>
<div class="lg" style="left:370px;top:923px;width:40px">滨浅海<br>碎屑岩</div>
<i class="C" style="left:416px;top:922px;width:33px;height:24px"></i>
<div class="lg" style="left:451px;top:923px;width:48px">浅海<br>碳酸岩盐</div>
<i class="P" style="left:505px;top:922px;width:33px;height:24px"></i>
<div class="lg" style="left:538px;top:923px;width:68px">硅质岩<br>(浅海-深海)</div>
<i style="left:601px;top:922px;width:33px;height:24px;background:linear-gradient(#0aa0dc,#7a5cae 60%,#a8338e)"></i>
<div class="lg" style="left:636px;top:923px;width:64px;font-size:9.5px">深海-半深海<br>复理石/浊积岩</div>

<i class="Y" style="left:0;top:948px;width:33px;height:21px"></i>
<div class="lg" style="left:36px;top:949px;width:34px">陆相<br>碎屑岩</div>
<svg style="position:absolute;left:96px;top:948px" width="34" height="21"><rect x="0.5" y="0.5" width="33" height="20" fill="#fff" stroke="#444"/><line x1="1" y1="20" x2="33" y2="1" stroke="#222" stroke-width="1.2"/></svg>
<div class="lg" style="left:132px;top:954px;width:46px">整合接触</div>
<svg style="position:absolute;left:190px;top:948px" width="34" height="21"><rect x="0.5" y="0.5" width="33" height="20" fill="#fff" stroke="#444"/><line x1="1" y1="20" x2="33" y2="1" stroke="#222" stroke-width="1.2" stroke-dasharray="2,2"/></svg>
<div class="lg" style="left:224px;top:949px;width:36px">平行<br>不整合</div>
<svg style="position:absolute;left:268px;top:948px" width="34" height="21"><rect x="0.5" y="0.5" width="33" height="20" fill="#fff" stroke="#444"/><polyline points="1,17 5,14 7,17 11,13 13,16 17,11 19,14 23,9 25,12 29,7 31,10 33,5" fill="none" stroke="#222"/></svg>
<div class="lg" style="left:302px;top:949px;width:36px">角度<br>不整合</div>
<svg style="position:absolute;left:357px;top:948px" width="34" height="21"><rect x="0.5" y="0.5" width="33" height="20" fill="#fff" stroke="#444"/><line x1="1" y1="20" x2="33" y2="1" stroke="#f08070" stroke-width="1.6"/></svg>
<div class="lg" style="left:393px;top:954px;width:46px">断层接触</div>
<i class="H" style="left:442px;top:948px;width:33px;height:21px"></i>
<div class="lg" style="left:478px;top:954px;width:46px">地层缺失</div>
</body></html>
